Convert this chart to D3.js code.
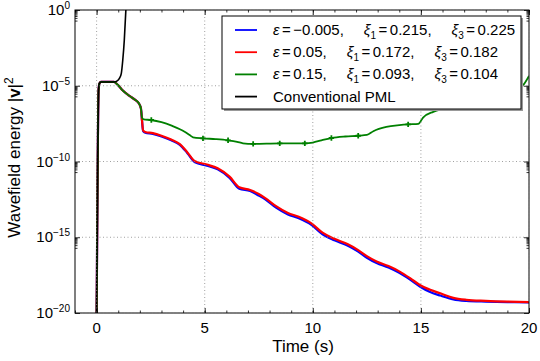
<!DOCTYPE html>
<html>
<head>
  <meta charset="utf-8">
  <title>wavefield energy</title>
  <script src="https://cdn.jsdelivr.net/npm/d3@7/dist/d3.min.js"></script>
  <style>
    body { margin: 0; background: #fff; }
    svg text { font-family: "Liberation Sans", Arial, sans-serif; fill: #000; }
  </style>
</head>
<body>
  <svg width="540" height="361"></svg>
  <script>
    // data: [time (s), log10 of energy]
    var seriesBlue = [
      [0, -20], [0.05, -10], [0.09, -5.3], [0.13, -4.85], [0.2, -4.75], [0.8, -4.75],
      [0.95, -4.9], [1.2, -5.3], [1.5, -5.65], [1.8, -5.95], [1.95, -6.15], [2.05, -6.5],
      [2.1, -7.3], [2.15, -8.0], [2.25, -8.1], [2.6, -8.18], [3.0, -8.35], [3.45, -8.6],
      [3.85, -8.9], [4.2, -9.45], [4.55, -10.05], [5.1, -10.27], [5.6, -10.52], [6.15, -11.08],
      [6.6, -11.8], [7.1, -11.95], [7.5, -12.25], [7.8, -12.5], [8.3, -13.05], [8.85, -13.5],
      [9.35, -13.75], [9.95, -14.2], [10.45, -14.8], [11.0, -15.2], [11.6, -15.55], [12.1, -15.95],
      [12.5, -16.35], [12.95, -16.7], [13.5, -17.0], [14.0, -17.35], [14.5, -17.8], [14.95, -18.25],
      [15.4, -18.6], [15.9, -18.85], [16.5, -19.1], [17.1, -19.2], [18.0, -19.25], [19.0, -19.28],
      [20, -19.3]
    ];
    var seriesRed = [
      [0, -20], [0.05, -10], [0.09, -5.3], [0.13, -4.85], [0.2, -4.75], [0.8, -4.75],
      [0.95, -4.9], [1.2, -5.3], [1.5, -5.65], [1.8, -5.95], [1.95, -6.15], [2.05, -6.5],
      [2.1, -7.3], [2.15, -7.95], [2.25, -8.05], [2.6, -8.13], [3.0, -8.3], [3.45, -8.55],
      [3.85, -8.85], [4.2, -9.4], [4.55, -9.98], [5.1, -10.2], [5.6, -10.45], [6.15, -11.0],
      [6.6, -11.7], [7.1, -11.88], [7.5, -12.15], [7.8, -12.42], [8.3, -12.95], [8.85, -13.4],
      [9.35, -13.65], [9.95, -14.1], [10.45, -14.7], [11.0, -15.1], [11.6, -15.45], [12.1, -15.85],
      [12.5, -16.25], [12.95, -16.6], [13.5, -16.9], [14.0, -17.25], [14.5, -17.7], [14.95, -18.15],
      [15.4, -18.45], [15.9, -18.7], [16.5, -19.0], [17.1, -19.13], [18.0, -19.2], [19.0, -19.25],
      [20, -19.28]
    ];
    var seriesGreen = [
      [0, -20], [0.05, -10], [0.09, -5.3], [0.13, -4.85], [0.2, -4.75], [0.8, -4.75],
      [0.95, -4.9], [1.2, -5.3], [1.5, -5.65], [1.8, -5.95], [1.95, -6.15], [2.05, -6.5],
      [2.1, -7.1], [2.18, -7.22], [2.5, -7.26], [3.0, -7.4], [3.5, -7.65], [4.07, -8.03],
      [4.3, -8.25], [4.46, -8.4], [4.92, -8.47], [5.5, -8.52], [6.08, -8.6], [6.5, -8.7],
      [6.77, -8.8], [7.24, -8.84], [8.47, -8.8], [9.63, -8.8], [10.0, -8.75], [10.4, -8.6],
      [10.86, -8.45], [11.5, -8.35], [12.1, -8.3], [12.5, -8.25], [12.8, -8.0], [13.4, -7.72],
      [14.0, -7.6], [14.4, -7.55], [14.88, -7.52], [15.1, -7.1], [15.57, -6.72], [16.03, -6.52],
      [17.0, -6.25], [18.0, -5.9], [19.0, -5.45], [19.7, -5.0], [20, -4.35]
    ];
    var greenMarks = [
      [2.53, -7.26], [4.92, -8.47], [6.08, -8.6], [7.24, -8.84], [8.47, -8.8],
      [9.63, -8.8], [10.86, -8.45], [12.1, -8.3], [14.41, -7.55]
    ];
    var seriesBlack = [
      [0, -20], [0.02, -16], [0.05, -10], [0.07, -7], [0.09, -5.3], [0.13, -4.85],
      [0.2, -4.75], [0.8, -4.75], [0.95, -4.68], [1.06, -4.5], [1.14, -4.2], [1.21, -3.3],
      [1.28, -2], [1.36, 0.2]
    ];

    var timeTicks = [0, 5, 10, 15, 20];
    var energyExps = [0, -5, -10, -15, -20];
    var legendEps = ["\u22120.005", "0.05", "0.15"];
    var legendXi1 = ["0.215", "0.172", "0.093"];
    var legendXi3 = ["0.225", "0.182", "0.104"];
    var colors = ["#0000ff", "#ff0000", "#008000", "#000000"];

    var svg = d3.select("svg");
    var pL = 75, pR = 529, pT = 10, pB = 313;

    var x = d3.scaleLinear().domain([-1, 20]).range([pL, pR]);
    var y = d3.scaleLog().domain([1e-20, 1]).range([pB, pT]);

    svg.append("clipPath").attr("id", "plot")
      .append("rect").attr("x", pL).attr("y", pT)
      .attr("width", pR - pL).attr("height", pB - pT);

    var line = d3.line()
      .x(function (d) { return x(d[0]); })
      .y(function (d) { return y(Math.pow(10, d[1])); })
      .curve(d3.curveMonotoneX);

    var g = svg.append("g").attr("clip-path", "url(#plot)");
    var all = [seriesBlue, seriesRed, seriesGreen, seriesBlack];
    all.forEach(function (s, i) {
      g.append("path").attr("d", line(s))
        .attr("fill", "none")
        .attr("stroke", colors[i])
        .attr("stroke-width", i == 3 ? 1.6 : (i == 2 ? 1.8 : 2.2))
        .attr("stroke-linejoin", "round");
      if (i == 2) {
        g.selectAll(".mk").data(greenMarks).enter().append("path")
          .attr("d", d3.symbol().type(d3.symbolCross).size(16))
          .attr("transform", function (d) {
            return "translate(" + x(d[0]) + "," + y(Math.pow(10, d[1])) + ")";
          })
          .attr("fill", colors[2]);
      }
    });

    // frame
    svg.append("rect").attr("x", pL).attr("y", pT)
      .attr("width", pR - pL).attr("height", pB - pT)
      .attr("fill", "none").attr("stroke", "#000").attr("stroke-width", 1);

    // grid
    var grid = svg.append("g").attr("stroke", "#888").attr("stroke-width", 0.8)
      .attr("stroke-dasharray", "1,2.5");
    timeTicks.forEach(function (t) {
      grid.append("line").attr("x1", x(t)).attr("x2", x(t)).attr("y1", pT).attr("y2", pB);
    });
    energyExps.forEach(function (e) {
      grid.append("line").attr("x1", pL).attr("x2", pR)
        .attr("y1", y(Math.pow(10, e))).attr("y2", y(Math.pow(10, e)));
    });

    // ticks, pointing inward on all four sides
    var minorT = d3.range(-1, 21, 1);
    var minorE = [];
    energyExps.slice(0, 4).forEach(function (e) {
      for (var k = 2; k < 10; k++) minorE.push(k * Math.pow(10, e - 1));
    });
    var majorE = energyExps.map(function (e) { return Math.pow(10, e); });

    function ticks(axis, vals, size, pos) {
      var a = svg.append("g").attr("transform", pos)
        .call(axis.tickValues(vals).tickSize(-size).tickFormat(""));
      a.select(".domain").remove();
      a.selectAll("line").attr("stroke", "#000").attr("stroke-width", 0.8);
      return a;
    }
    ticks(d3.axisBottom(x), minorT, 2.5, "translate(0," + pB + ")");
    ticks(d3.axisBottom(x), timeTicks, 5, "translate(0," + pB + ")");
    ticks(d3.axisTop(x), minorT, 2.5, "translate(0," + pT + ")");
    ticks(d3.axisTop(x), timeTicks, 5, "translate(0," + pT + ")");
    ticks(d3.axisLeft(y), minorE, 2.5, "translate(" + pL + ",0)");
    ticks(d3.axisLeft(y), majorE, 5, "translate(" + pL + ",0)");
    ticks(d3.axisRight(y), minorE, 2.5, "translate(" + pR + ",0)");
    ticks(d3.axisRight(y), majorE, 5, "translate(" + pR + ",0)");

    // tick labels
    svg.selectAll(".xl").data(timeTicks).enter().append("text")
      .attr("x", function (d) { return x(d); })
      .attr("y", 333)
      .attr("text-anchor", "middle")
      .attr("font-size", 15)
      .text(function (d) { return d; });

    energyExps.forEach(function (e) {
      var t = svg.append("text")
        .attr("x", 70).attr("y", y(Math.pow(10, e)) + 5)
        .attr("text-anchor", "end").attr("font-size", 15);
      t.append("tspan").text("10");
      t.append("tspan").attr("dy", -6).attr("font-size", 10)
        .text(e == 0 ? "0" : "\u2212" + Math.abs(e));
    });

    // axis titles
    svg.append("text").attr("x", (pL + pR) / 2 + 1).attr("y", 352)
      .attr("text-anchor", "middle").attr("font-size", 17).text("Time (s)");

    var yl = svg.append("text")
      .attr("transform", "translate(20," + ((pT + pB) / 2 - 4) + ") rotate(-90)")
      .attr("text-anchor", "middle").attr("font-size", 17);
    yl.append("tspan").text("Wavefield energy |");
    yl.append("tspan").attr("font-weight", "bold").text("v");
    yl.append("tspan").text("|");
    yl.append("tspan").attr("dy", -7).attr("font-size", 12).text("2");

    // legend
    var lg = svg.append("g");
    lg.append("rect").attr("x", 224).attr("y", 18).attr("width", 299).attr("height", 93)
      .attr("fill", "#999");
    lg.append("rect").attr("x", 222).attr("y", 16).attr("width", 299).attr("height", 93)
      .attr("fill", "#fff").attr("stroke", "#000").attr("stroke-width", 1);

    function eq(tx, val, dyBack) {
      var s = tx.append("tspan").attr("dx", 2.5).text("=");
      if (dyBack) s.attr("dy", dyBack);
      tx.append("tspan").attr("dx", 2.5).text(val);
    }

    for (var i = 0; i < 4; i++) {
      var ry = 30 + i * 22.2;
      lg.append("line").attr("x1", 235).attr("x2", 257).attr("y1", ry).attr("y2", ry)
        .attr("stroke", colors[i]).attr("stroke-width", 1.8);
      var tx = lg.append("text").attr("x", 273).attr("y", ry + 5).attr("font-size", 15);
      if (i == 3) {
        tx.text("Conventional PML");
        continue;
      }
      tx.append("tspan").attr("font-style", "italic").text("\u03b5");
      eq(tx, legendEps[i] + ",", 0);
      tx.append("tspan").attr("dx", 20).attr("font-style", "italic").text("\u03be");
      tx.append("tspan").attr("dy", 4).attr("font-size", 10).text("1");
      eq(tx, legendXi1[i] + ",", -4);
      tx.append("tspan").attr("dx", 20).attr("font-style", "italic").text("\u03be");
      tx.append("tspan").attr("dy", 4).attr("font-size", 10).text("3");
      eq(tx, legendXi3[i], -4);
    }
  </script>
</body>
</html>
